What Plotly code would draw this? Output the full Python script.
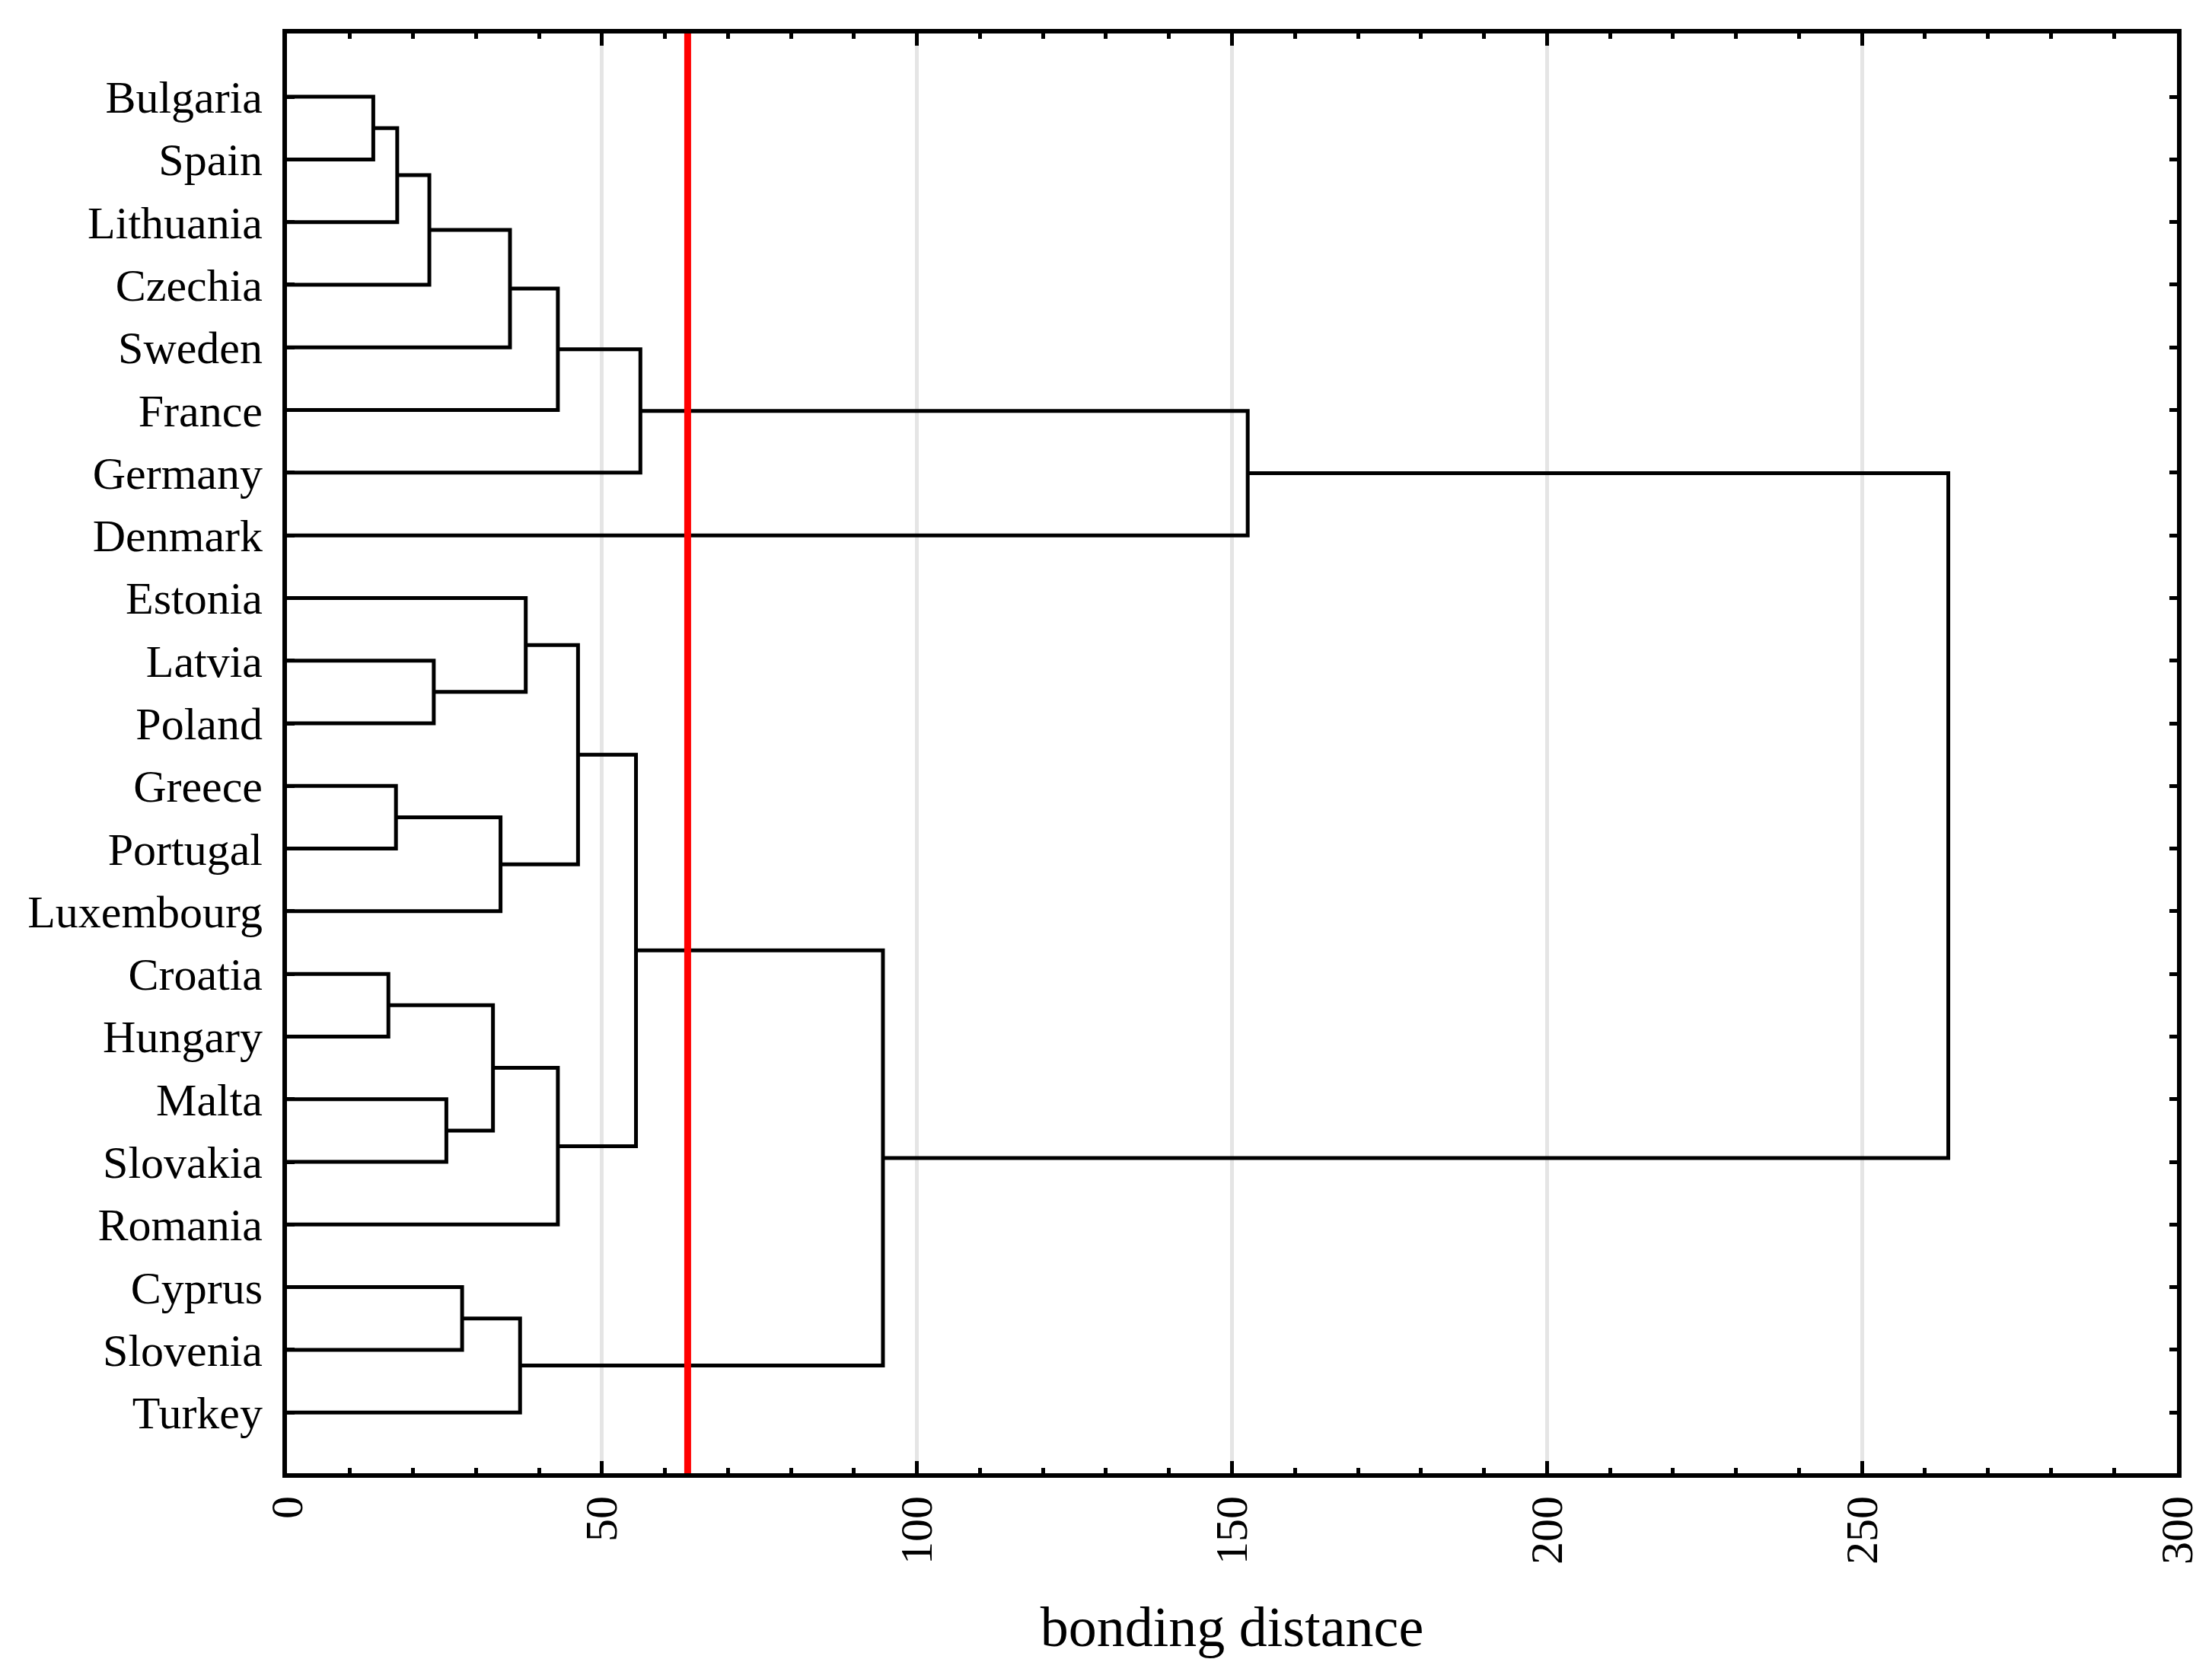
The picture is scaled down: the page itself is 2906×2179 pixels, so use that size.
import plotly.graph_objects as go

# leaves of the dendrogram, top to bottom
leaves = ["Bulgaria", "Spain", "Lithuania", "Czechia", "Sweden", "France",
          "Germany", "Denmark", "Estonia", "Latvia", "Poland", "Greece",
          "Portugal", "Luxembourg", "Croatia", "Hungary", "Malta", "Slovakia",
          "Romania", "Cyprus", "Slovenia", "Turkey"]

# merges: new cluster ids start at len(leaves)
merge_left = [0, 22, 23, 24, 25, 26, 27, 9, 8, 11, 31, 30, 14, 16, 34, 36, 33, 19, 39, 38, 28]
merge_right = [1, 2, 3, 4, 5, 6, 7, 10, 29, 12, 13, 32, 15, 17, 35, 18, 37, 20, 21, 40, 41]
merge_height = [13.7, 17.5, 22.6, 35.4, 43.0, 56.1, 152.5, 23.3, 37.9, 17.3, 33.9,
                46.2, 16.1, 25.3, 32.7, 43.0, 55.4, 27.8, 37.0, 94.6, 263.7]

cut_distance = 63.6
x_ticks = [0, 50, 100, 150, 200, 250, 300]

font = "Liberation Serif"

# position and height of each node
pos = {i: float(i) for i in range(len(leaves))}
hgt = {i: 0.0 for i in range(len(leaves))}
xs, ys = [], []
for k, (a, b, h) in enumerate(zip(merge_left, merge_right, merge_height)):
    node = len(leaves) + k
    pos[node] = (pos[a] + pos[b]) / 2
    hgt[node] = h
    xs += [hgt[a], h, h, hgt[b], None]
    ys += [pos[a], pos[a], pos[b], pos[b], None]

y_range = [21.97, -1.01]

fig = go.Figure()
fig.add_trace(go.Scatter(x=xs, y=ys, mode="lines",
                         line=dict(color="black", width=5),
                         hoverinfo="skip", showlegend=False))
fig.add_trace(go.Scatter(x=[cut_distance, cut_distance], y=y_range,
                         mode="lines", line=dict(color="#ff0000", width=9),
                         hoverinfo="skip", showlegend=False, cliponaxis=False))

fig.update_layout(
    width=2906, height=2179,
    margin=dict(l=369, r=54, t=36, b=252),
    plot_bgcolor="white", paper_bgcolor="white",
    font=dict(family=font, color="black", size=60),
)
fig.update_xaxes(
    range=[0, 300], tickvals=x_ticks, tickangle=-90,
    showgrid=True, gridcolor="#e5e5e5", gridwidth=5,
    showline=True, linecolor="black", linewidth=6, mirror="allticks",
    ticks="inside", ticklen=16, tickwidth=5, tickcolor="black",
    minor=dict(ticks="inside", dtick=10, ticklen=7, tickwidth=5,
               tickcolor="black", showgrid=False),
    tickfont=dict(family=font, size=60),
    title=dict(text="bonding distance", font=dict(family=font, size=74), standoff=58),
    zeroline=False,
)
fig.update_yaxes(
    range=y_range, tickvals=list(range(len(leaves))), ticktext=leaves,
    showgrid=False, zeroline=False,
    showline=True, linecolor="black", linewidth=6, mirror="allticks",
    ticks="inside", ticklen=10, tickwidth=5, tickcolor="black",
    tickfont=dict(family=font, size=60), ticklabelstandoff=14,
)

fig.write_html("out.html")
